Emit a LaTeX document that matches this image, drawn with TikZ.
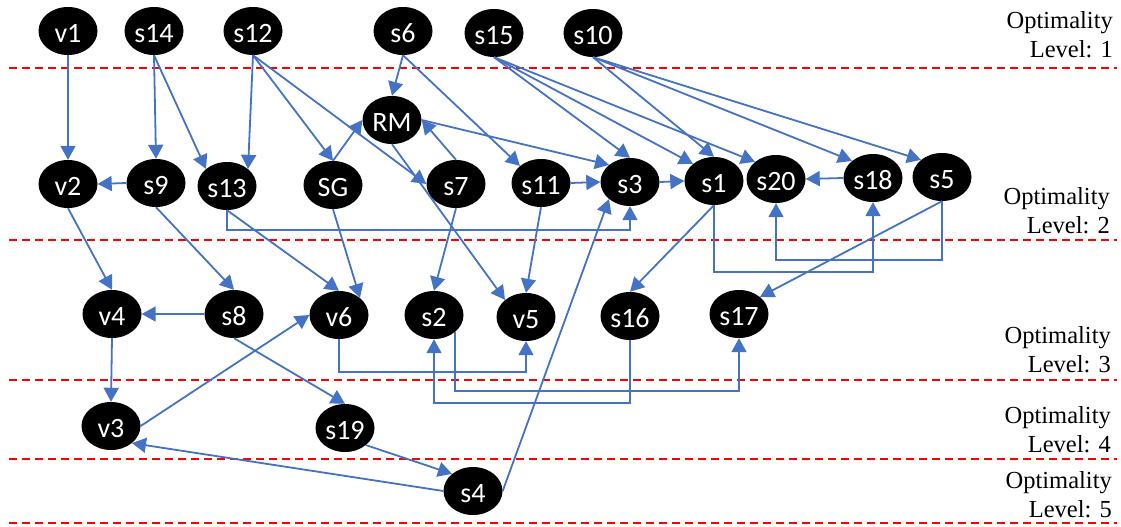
\documentclass[tikz,border=0pt]{standalone}
\usepackage{fontspec}
\setmainfont{Liberation Serif}
\newfontfamily\nodefont{Carlito}
\newfontfamily\captionfont{Liberation Serif}
\usetikzlibrary{arrows.meta,shapes.geometric}
\definecolor{edgeblue}{RGB}{68,114,196}
\definecolor{levelred}{RGB}{255,0,0}
\begin{document}
\begin{tikzpicture}[x=1pt,y=-1pt,
  state/.style={ellipse,fill=black,minimum width=59pt,minimum height=48pt,
    inner sep=0pt,text=white,text height=23pt,text depth=0pt,
    font=\nodefont\fontsize{28}{28}\selectfont},
  link/.style={draw=edgeblue,line width=1.8pt,-{Triangle[width=15pt,length=14pt]}},
  divider/.style={draw=levelred,line width=1.8pt,dash pattern=on 8pt off 5pt},
  level/.style={anchor=base east,inner sep=0pt,font=\captionfont\fontsize{24.5}{29}\selectfont}]
\useasboundingbox (0,0) rectangle (1121,527);

% level dividers
\coordinate (d1l) at (9,68);   \coordinate (d1r) at (1117,68);
\coordinate (d2l) at (9,240);  \coordinate (d2r) at (1117,240);
\coordinate (d3l) at (9,380);  \coordinate (d3r) at (1117,380);
\coordinate (d4l) at (9,459);  \coordinate (d4r) at (1117,459);
\coordinate (d5l) at (9,523);  \coordinate (d5r) at (1117,523);
\foreach \i in {1,...,5} \draw[divider] (d\i l) -- (d\i r);

% level captions
\node[level] (l1a) at (1113,28.5) {Optimality};
\node[level] (l1b) at (1113,57)   {Level: 1};
\node[level] (l2a) at (1110,204)  {Optimality};
\node[level] (l2b) at (1110,233)  {Level: 2};
\node[level] (l3a) at (1111,343)  {Optimality};
\node[level] (l3b) at (1111,372)  {Level: 3};
\node[level] (l4a) at (1111,423)  {Optimality};
\node[level] (l4b) at (1111,452)  {Level: 4};
\node[level] (l5a) at (1112,488)  {Optimality};
\node[level] (l5b) at (1112,517)  {Level: 5};

% level 1
\node[state] (v1)  at (68,31)  {v1};
\node[state] (s14) at (154,31) {s14};
\node[state] (s12) at (253,31) {s12};
\node[state] (s6)  at (403,31) {s6};
\node[state] (s15) at (494,33) {s15};
\node[state] (s10) at (593,33) {s10};
% level 2
\node[state] (RM)  at (392,120) {RM};
\node[state] (v2)  at (68,184)  {v2};
\node[state] (s9)  at (156,183) {s9};
\node[state] (s13) at (227,186) {s13};
\node[state] (SG)  at (333,185) {SG};
\node[state] (s7)  at (456,184) {s7};
\node[state] (s11) at (541,183) {s11};
\node[state] (s3)  at (630,182) {s3};
\node[state] (s1)  at (714,181) {s1};
\node[state] (s20) at (776,179) {s20};
\node[state] (s18) at (873,178) {s18};
\node[state] (s5)  at (942,177) {s5};
% level 3
\node[state] (v4)  at (112,314) {v4};
\node[state] (s8)  at (234,314) {s8};
\node[state] (v6)  at (339,315) {v6};
\node[state] (s2)  at (434,315) {s2};
\node[state] (v5)  at (526,317) {v5};
\node[state] (s16) at (630,316) {s16};
\node[state] (s17) at (739,314) {s17};
% level 4
\node[state] (v3)  at (111,426) {v3};
\node[state] (s19) at (345,428) {s19};
% level 5
\node[state] (s4)  at (473,491) {s4};

% straight connectors
\draw[link] (v1.south)  -- (v2.north);
\draw[link] (s14.south) -- (s9.north);
\draw[link] (s14.south) -- (s13.north west);
\draw[link] (s12.south) -- (s13.north east);
\draw[link] (s12.south) -- (SG.north);
\draw[link] (s12.south) -- (s7.west);
\draw[link] (s6.south)  -- (RM.north);
\draw[link] (s6.south)  -- (s11.north west);
\draw[link] (SG.north)  -- (RM.west);
\draw[link] (s7.north)  -- (RM.east);
\draw[link] (RM.east)   -- (s3.north west);
\draw[link] (RM.south)  -- (v5.north west);
\draw[link] (s15.south) -- (s3.north);
\draw[link] (s15.south) -- (s1.north west);
\draw[link] (s15.south) -- (s20.north west);
\draw[link] (s10.south) -- (s1.north);
\draw[link] (s10.south) -- (s18.north west);
\draw[link] (s10.south) -- (s5.north west);
\draw[link] (s11.east)  -- (s3.west);
\draw[link] (s3.east)   -- (s1.west);
\draw[link] (s18.west)  -- (s20.east);
\draw[link] (s9.west)   -- (v2.east);
\draw[link] (v2.south)  -- (v4.north);
\draw[link] (s9.south)  -- (s8.north);
\draw[link] (s13.south) -- (v6.north);
\draw[link] (SG.south)  -- (v6.north east);
\draw[link] (s7.south)  -- (s2.north);
\draw[link] (s11.south) -- (v5.north);
\draw[link] (s1.south)  -- (s16.north);
\draw[link] (s5.south)  -- (s17.north east);
\draw[link] (s8.west)   -- (v4.east);
\draw[link] (v4.south)  -- (v3.north);
\draw[link] (s8.south)  -- (s19.north);
\draw[link] (v3.east)   -- (v6.west);
\draw[link] (s19.south east) -- (s4.north west);
\draw[link] (s4.west)   -- (v3.south east);
\draw[link] (s4.east)   -- (s3.south west);

% elbow connectors
\draw[link] (s13.south) -- ++(0,20) -| (s3.south);
\draw[link] (s1.south)  -- ++(0,67) -| (s18.south);
\draw[link] (s5.south)  -- ++(0,59) -| (s20.south);
\draw[link] (v6.south)  -- ++(0,33) -| (v5.south);
\draw[link] (s2.south east) -- ++(0,59) -| (s17.south);
\draw[link] (s16.south) -- ++(0,63) -| (s2.south);
\end{tikzpicture}
\end{document}
